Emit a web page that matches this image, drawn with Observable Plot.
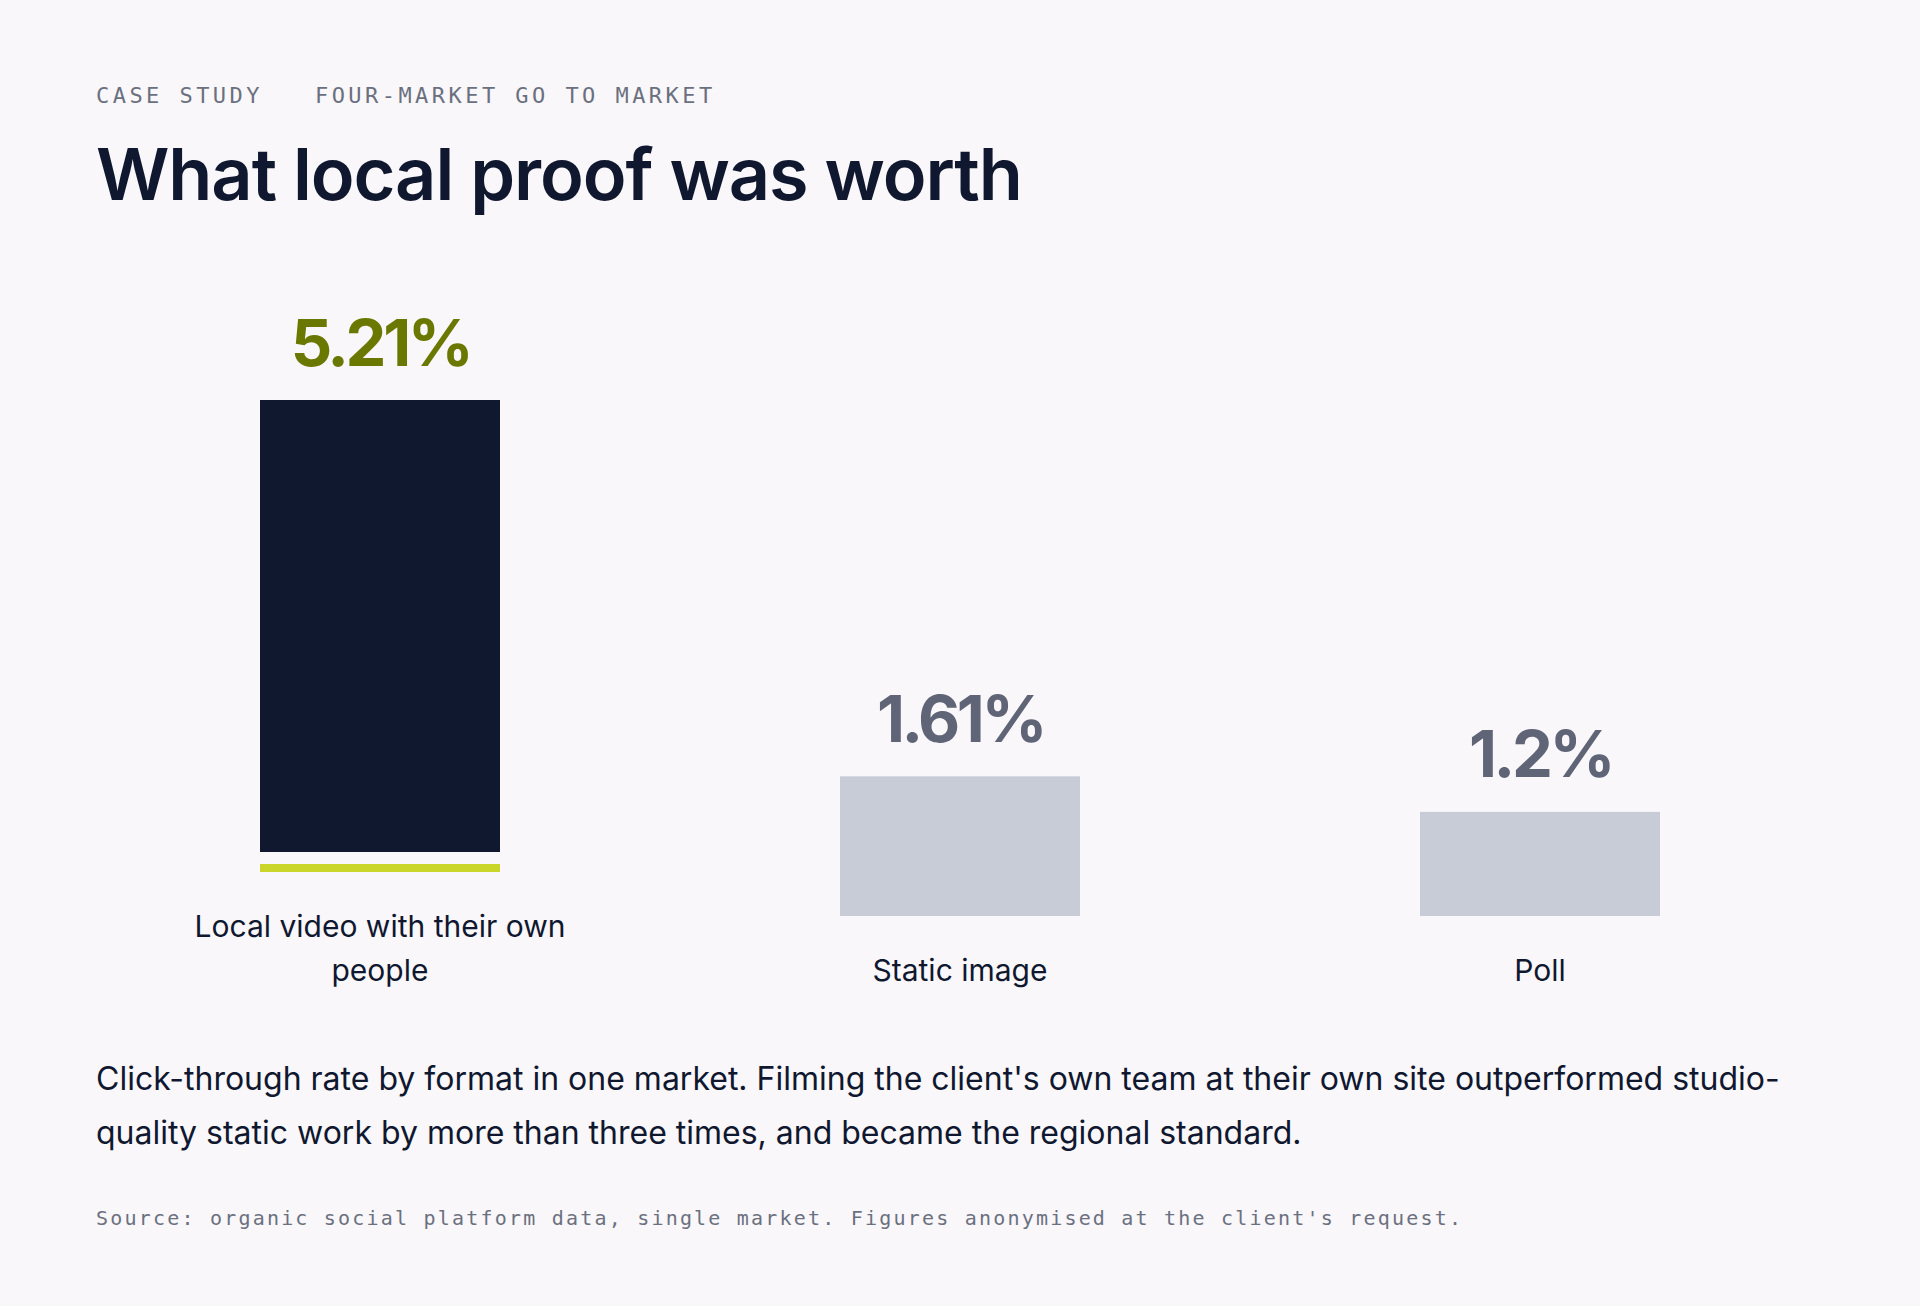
<!DOCTYPE html>
<html>
<head>
<meta charset="utf-8">
<script src="https://cdn.jsdelivr.net/npm/d3@7"></script>
<script src="https://cdn.jsdelivr.net/npm/@observablehq/plot@0.6"></script>
<style>
  html, body { margin: 0; padding: 0; background: #f9f7fa; }
  body { width: 1920px; height: 1306px; position: relative; font-family: Inter, "Noto Sans", sans-serif; color: #101830; }
  .kicker { position: absolute; left: 96px; top: 81px; line-height: 30px; font-family: "DejaVu Sans Mono", monospace; font-size: 22px; letter-spacing: 3.45px; color: #6b7080; white-space: nowrap; }
  .kicker span + span { margin-left: 52px; }
  h1 { position: absolute; left: 96px; top: 138px; margin: 0; font-size: 72px; line-height: 72px; font-weight: 600; letter-spacing: -0.015em; color: #101830; white-space: nowrap; }
  .chart { position: absolute; left: 90px; top: 310px; width: 1740px; display: flex; align-items: flex-end; }
  .col { width: 580px; display: flex; flex-direction: column; align-items: center; }
  .accent { width: 240px; height: 8px; background: #cbd62b; margin-top: 12px; }
  .label { margin-top: 32px; max-width: 420px; text-align: center; font-size: 30px; line-height: 44px; color: #101830; }
  .caption { position: absolute; left: 96px; top: 1052px; width: 1728px; margin: 0; font-size: 32px; line-height: 54px; color: #101830; }
  .source { position: absolute; left: 96px; top: 1203px; margin: 0; font-family: "DejaVu Sans Mono", monospace; font-size: 20px; line-height: 30px; letter-spacing: 2.2px; color: #6b7080; white-space: nowrap; }
</style>
</head>
<body>
<div class="kicker"><span id="k1"></span><span id="k2"></span></div>
<h1 id="title"></h1>
<div class="chart" id="chart"></div>
<p class="caption" id="caption"></p>
<p class="source" id="source"></p>
<script>
const kicker = ["CASE STUDY", "FOUR-MARKET GO TO MARKET"];
const title = "What local proof was worth";
const categories = ["Local video with their own people", "Static image", "Poll"];
const values = [5.21, 1.61, 1.2];
const valueLabels = ["5.21%", "1.61%", "1.2%"];
const highlighted = [true, false, false];
const caption = "Click-through rate by format in one market. Filming the client's own team at their own site outperformed studio-quality static work by more than three times, and became the regional standard.";
const source = "Source: organic social platform data, single market. Figures anonymised at the client's request.";

document.getElementById("k1").textContent = kicker[0];
document.getElementById("k2").textContent = kicker[1];
document.getElementById("title").textContent = title;
document.getElementById("caption").textContent = caption;
document.getElementById("source").textContent = source;

const yMax = d3.max(values);
const chart = document.getElementById("chart");

categories.forEach((cat, i) => {
  const d = [{cat, v: values[i], label: valueLabels[i]}];
  const hi = highlighted[i];
  const plot = Plot.plot({
    width: 240,
    height: 542,
    marginTop: 90,
    marginBottom: 0,
    marginLeft: 0,
    marginRight: 0,
    x: {domain: [cat], padding: 0, axis: null},
    y: {domain: [0, yMax], axis: null},
    style: {background: "transparent", overflow: "visible"},
    marks: [
      Plot.barY(d, {x: "cat", y: "v", fill: hi ? "#101830" : "#c8ccd7"}),
      Plot.text(d, {
        x: "cat", y: "v", text: "label", dy: -35, lineAnchor: "bottom",
        fontSize: 65, fontWeight: 700, fontFamily: "Inter",
        fill: hi ? "#6b7800" : "#5f6577"
      })
    ]
  });
  plot.style.letterSpacing = "-3.4px";
  const col = document.createElement("div");
  col.className = "col";
  col.appendChild(plot);
  if (hi) {
    const acc = document.createElement("div");
    acc.className = "accent";
    col.appendChild(acc);
  }
  const lab = document.createElement("div");
  lab.className = "label";
  lab.textContent = cat;
  col.appendChild(lab);
  chart.appendChild(col);
});
</script>
</body>
</html>
